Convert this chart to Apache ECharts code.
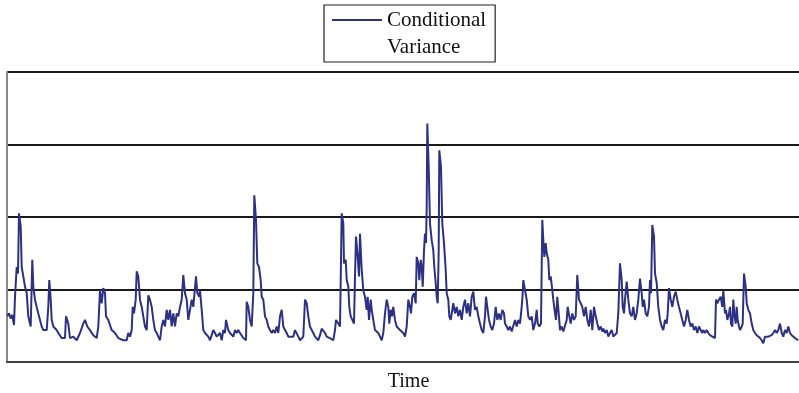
<!DOCTYPE html>
<html>
<head>
<meta charset="utf-8">
<script src="https://cdn.jsdelivr.net/npm/echarts@6/dist/echarts.min.js"></script>
<style>
  html, body { margin: 0; padding: 0; background: #fff; }
  #chart { width: 799px; height: 393px; }
</style>
</head>
<body>
<div id="chart"></div>
<script>
// conditional variance: [period, value]
const seriesName = "Conditional Variance";
const xLabel = "Time";
const yTicks = [0, 1, 2, 3, 4];
const periodRange = [0, 792];

const condVariance = [
  [0.3, 0.63], [2.0, 0.67], [3.7, 0.60], [5.3, 0.65], [7.0, 0.51], [8.0, 0.90], [9.7, 1.31], [11.0, 1.22], [12.0, 2.05], [13.7, 1.87],
  [14.7, 1.31], [16.3, 1.18], [18.0, 1.04], [19.7, 0.95], [21.3, 0.63], [23.7, 0.49], [25.3, 1.41], [26.3, 1.04], [28.0, 0.86], [29.7, 0.76],
  [31.3, 0.67], [33.0, 0.67], [34.7, 0.49], [36.3, 0.44], [39.7, 0.44], [41.3, 0.76], [42.3, 1.13], [43.7, 0.86], [44.7, 0.58], [46.3, 0.49],
  [49.7, 0.44], [51.3, 0.40], [54.7, 0.33], [58.0, 0.33], [59.0, 0.63], [61.3, 0.53], [63.0, 0.33], [66.3, 0.35], [69.7, 0.30], [73.0, 0.40],
  [76.3, 0.53], [78.0, 0.58], [80.3, 0.49], [83.0, 0.44], [86.3, 0.37], [89.7, 0.33], [91.3, 0.49], [93.0, 0.99], [94.7, 0.81], [96.3, 1.02],
  [98.0, 0.95], [99.0, 0.63], [101.3, 0.58], [104.7, 0.44], [108.0, 0.40], [111.3, 0.33], [116.3, 0.30], [119.7, 0.30], [121.3, 0.40], [123.0, 0.35],
  [124.7, 0.44], [125.7, 0.76], [127.0, 0.67], [128.7, 0.86], [129.7, 1.25], [131.3, 1.18], [133.0, 0.86], [134.7, 0.76], [136.3, 0.63], [138.0, 0.49],
  [139.7, 0.44], [141.3, 0.92], [143.0, 0.86], [144.7, 0.76], [146.3, 0.58], [148.0, 0.44], [149.7, 0.40], [151.3, 0.35], [153.0, 0.30], [154.7, 0.49],
  [156.3, 0.58], [158.0, 0.49], [159.7, 0.72], [161.3, 0.58], [163.0, 0.72], [164.7, 0.49], [166.3, 0.67], [168.0, 0.49], [169.7, 0.67], [171.3, 0.63],
  [173.0, 0.76], [174.7, 0.86], [176.3, 1.20], [178.0, 0.95], [179.7, 0.86], [181.3, 0.58], [183.0, 0.72], [184.7, 0.86], [186.3, 0.76], [189.0, 1.18],
  [190.3, 0.95], [192.3, 0.90], [193.0, 0.99], [194.7, 0.72], [196.3, 0.44], [198.0, 0.40], [201.3, 0.35], [203.0, 0.30], [206.3, 0.44], [208.0, 0.40],
  [209.7, 0.35], [213.0, 0.40], [214.7, 0.30], [216.3, 0.44], [218.0, 0.40], [219.0, 0.58], [221.3, 0.44], [223.0, 0.40], [226.3, 0.35], [228.0, 0.44],
  [229.7, 0.40], [231.3, 0.44], [233.0, 0.40], [236.3, 0.33], [239.0, 0.30], [239.7, 0.83], [241.3, 0.76], [243.0, 0.58], [244.7, 0.49], [246.3, 0.95],
  [247.3, 2.30], [249.0, 1.96], [250.3, 1.36], [252.0, 1.31], [253.7, 1.13], [254.7, 0.90], [256.3, 0.86], [258.0, 0.63], [259.7, 0.58], [261.3, 0.49],
  [263.0, 0.44], [264.7, 0.40], [266.3, 0.44], [268.0, 0.40], [269.7, 0.49], [271.3, 0.40], [273.0, 0.63], [274.7, 0.72], [276.3, 0.49], [278.0, 0.44],
  [279.7, 0.40], [281.3, 0.35], [283.0, 0.33], [286.3, 0.35], [288.0, 0.44], [289.7, 0.42], [291.3, 0.35], [293.0, 0.30], [296.3, 0.35], [298.0, 0.86],
  [299.7, 0.81], [301.3, 0.63], [303.0, 0.49], [304.7, 0.44], [306.3, 0.40], [308.0, 0.35], [311.3, 0.30], [313.0, 0.37], [314.7, 0.46], [316.3, 0.44],
  [318.0, 0.40], [319.7, 0.35], [321.3, 0.37], [323.0, 0.33], [326.3, 0.30], [328.0, 0.44], [329.0, 0.58], [331.3, 0.53], [333.0, 0.49], [334.7, 2.05],
  [336.3, 1.91], [337.0, 1.36], [338.7, 1.41], [339.7, 1.13], [341.3, 1.04], [342.3, 0.76], [343.7, 0.63], [345.3, 0.58], [347.0, 0.53], [348.0, 1.18],
  [349.0, 1.73], [350.7, 1.45], [352.0, 1.18], [353.0, 1.77], [354.7, 1.27], [356.3, 0.99], [358.0, 0.90], [359.7, 0.72], [360.7, 0.90], [362.0, 0.58],
  [363.7, 0.86], [364.7, 0.72], [366.3, 0.58], [368.0, 0.44], [369.7, 0.44], [371.3, 0.40], [373.0, 0.35], [374.7, 0.30], [376.3, 0.40], [378.0, 0.67],
  [379.7, 0.86], [381.3, 0.76], [382.3, 0.53], [383.7, 0.72], [385.0, 0.63], [386.3, 0.76], [388.0, 0.58], [389.7, 0.49], [391.3, 0.49], [393.0, 0.44],
  [396.3, 0.40], [398.0, 0.35], [399.7, 0.49], [401.3, 0.86], [403.0, 0.76], [404.0, 0.67], [405.3, 0.90], [407.0, 0.95], [408.7, 0.81], [409.7, 1.45],
  [411.3, 1.36], [412.3, 1.13], [413.7, 1.41], [414.7, 1.31], [415.7, 1.04], [417.0, 1.54], [418.0, 1.77], [419.0, 1.64], [419.7, 2.14], [420.3, 3.29],
  [421.7, 2.69], [423.0, 1.91], [424.7, 1.68], [426.3, 1.54], [427.3, 1.31], [428.7, 1.09], [429.7, 0.90], [430.7, 0.81], [431.7, 1.54], [432.3, 2.92],
  [434.0, 2.69], [435.3, 1.91], [437.0, 1.64], [438.7, 1.27], [439.7, 0.95], [441.3, 0.86], [442.3, 0.63], [443.7, 0.58], [445.3, 0.72], [446.3, 0.81],
  [448.0, 0.67], [449.7, 0.76], [451.3, 0.63], [453.0, 0.72], [454.7, 0.58], [456.3, 0.76], [458.0, 0.86], [459.7, 0.67], [461.3, 0.81], [463.0, 0.63],
  [464.7, 0.90], [466.3, 0.97], [468.0, 0.72], [469.7, 0.76], [471.3, 0.63], [473.0, 0.53], [474.7, 0.44], [476.3, 0.40], [478.0, 0.63], [479.0, 0.90],
  [480.3, 0.76], [482.0, 0.58], [483.7, 0.49], [485.3, 0.44], [487.0, 0.53], [488.7, 0.76], [490.3, 0.58], [492.0, 0.67], [493.7, 0.58], [495.3, 0.72],
  [497.0, 0.67], [498.0, 0.53], [499.7, 0.49], [501.3, 0.44], [503.0, 0.49], [504.7, 0.42], [506.3, 0.44], [508.0, 0.58], [509.7, 0.49], [511.3, 0.58],
  [513.0, 0.53], [514.7, 0.76], [515.7, 0.95], [516.3, 1.13], [518.0, 0.99], [519.7, 0.86], [521.3, 0.63], [523.0, 0.58], [524.7, 0.63], [526.3, 0.44],
  [528.0, 0.53], [529.7, 0.72], [530.7, 0.53], [532.3, 0.49], [534.0, 0.53], [535.3, 1.96], [536.3, 1.68], [537.3, 1.45], [538.7, 1.64], [539.7, 1.50],
  [541.3, 1.41], [542.3, 1.13], [543.7, 1.18], [545.3, 0.99], [546.3, 0.86], [548.0, 0.67], [549.0, 0.58], [550.3, 0.90], [551.7, 0.67], [553.0, 0.44],
  [554.7, 0.49], [556.3, 0.42], [558.0, 0.44], [559.7, 0.58], [560.7, 0.76], [562.3, 0.63], [563.7, 0.53], [565.3, 0.67], [567.0, 0.58], [568.7, 0.63],
  [570.3, 1.20], [572.0, 0.86], [573.7, 0.81], [575.3, 0.76], [577.0, 0.63], [578.7, 0.76], [580.3, 0.58], [582.0, 0.49], [583.7, 0.72], [585.3, 0.44],
  [587.0, 0.76], [588.7, 0.63], [590.3, 0.53], [592.0, 0.44], [593.7, 0.49], [595.3, 0.42], [596.3, 0.46], [598.0, 0.40], [599.7, 0.44], [601.3, 0.35],
  [603.0, 0.40], [604.7, 0.44], [606.3, 0.35], [608.0, 0.33], [609.7, 0.40], [611.3, 0.67], [613.0, 1.36], [614.7, 1.13], [615.7, 0.76], [617.0, 0.67],
  [618.0, 0.86], [619.7, 1.11], [621.3, 0.86], [623.0, 0.67], [624.7, 0.63], [626.3, 0.76], [628.0, 0.58], [629.7, 0.67], [631.3, 0.86], [633.0, 1.15],
  [634.7, 0.95], [635.7, 0.76], [637.0, 0.86], [638.7, 0.67], [640.3, 0.63], [642.0, 0.76], [643.0, 1.13], [644.0, 0.95], [645.3, 1.89], [647.0, 1.73],
  [648.0, 1.22], [649.7, 1.09], [651.3, 0.76], [653.0, 0.58], [654.7, 0.49], [656.3, 0.44], [658.0, 0.58], [659.7, 0.53], [660.7, 0.67], [662.0, 1.02],
  [663.7, 0.86], [665.3, 0.76], [667.0, 0.90], [668.7, 0.97], [670.3, 0.86], [672.0, 0.76], [673.7, 0.67], [675.3, 0.58], [677.0, 0.49], [678.7, 0.58],
  [680.3, 0.72], [682.0, 0.58], [683.7, 0.49], [685.3, 0.53], [687.0, 0.44], [688.7, 0.49], [690.3, 0.40], [692.0, 0.49], [693.7, 0.44], [695.3, 0.40],
  [696.3, 0.44], [698.0, 0.40], [699.7, 0.44], [701.3, 0.40], [703.0, 0.37], [704.7, 0.35], [708.0, 0.33], [709.0, 0.86], [710.3, 0.81], [712.0, 0.86],
  [713.7, 0.90], [715.3, 0.76], [716.3, 0.99], [718.0, 0.67], [719.0, 0.72], [720.3, 0.58], [722.0, 0.67], [723.0, 0.76], [724.0, 0.53], [725.3, 0.49],
  [726.3, 0.86], [727.3, 0.67], [728.7, 0.53], [729.7, 0.76], [730.7, 0.58], [732.0, 0.49], [733.0, 0.44], [734.7, 0.49], [735.7, 0.53], [737.0, 1.22],
  [738.7, 1.04], [739.7, 0.81], [741.3, 0.72], [743.0, 0.67], [744.7, 0.53], [746.3, 0.44], [748.0, 0.40], [749.7, 0.37], [753.0, 0.33], [754.7, 0.30],
  [756.3, 0.26], [758.0, 0.35], [759.7, 0.33], [761.3, 0.35], [763.0, 0.33], [764.7, 0.37], [766.3, 0.40], [768.0, 0.44], [769.7, 0.40], [771.3, 0.44],
  [773.0, 0.53], [774.7, 0.40], [776.3, 0.35], [778.0, 0.44], [779.7, 0.40], [781.3, 0.49], [783.0, 0.40], [784.7, 0.37], [786.3, 0.35], [788.0, 0.33],
  [789.7, 0.35], [791.3, 0.30]
];

const lineColor = "#2c3183";
const serif = "'Liberation Serif', 'Times New Roman', serif";

const myChart = echarts.init(document.getElementById("chart"));

const option = {
  animation: false,
  backgroundColor: "#fff",
  grid: { left: 7, right: 0, top: 72, bottom: 31, containLabel: false, outerBoundsMode: "none" },
  legend: {
    data: [seriesName],
    left: 324,
    top: 5,
    padding: [2, 9, 1, 8],
    borderColor: "#222",
    borderWidth: 1.2,
    itemWidth: 50,
    itemHeight: 54,
    // thin line near the top of a tall box so it sits level with the first text line
    icon: "path://M0,12H50V14H0Z M0,0H0.01V0.01H0Z M0,54H0.01V54.01H0Z",
    itemStyle: { borderWidth: 0 },
    selectedMode: false,
    formatter: (name) => name.replace(" ", "\n"),
    textStyle: { fontFamily: serif, fontSize: 21, lineHeight: 27, color: "#111" },
  },
  xAxis: {
    type: "value",
    min: periodRange[0],
    max: periodRange[1],
    name: xLabel,
    nameLocation: "middle",
    nameGap: 10,
    nameTextStyle: { fontFamily: serif, fontSize: 20, color: "#111", padding: [0, 0, 0, 11] },
    axisLine: { show: true, onZero: false, lineStyle: { color: "#404040", width: 2 } },
    axisTick: { show: false },
    axisLabel: { show: false },
    splitLine: { show: false },
  },
  yAxis: {
    type: "value",
    min: yTicks[0],
    max: yTicks[yTicks.length - 1],
    interval: 1,
    axisLine: { show: true, lineStyle: { color: "#888", width: 2 } },
    axisTick: { show: false },
    axisLabel: { show: false },
    splitLine: { show: true, lineStyle: { color: "#1a1a1a", width: 2 } },
  },
  series: [
    {
      name: seriesName,
      type: "line",
      data: condVariance,
      showSymbol: false,
      symbol: "none",
      itemStyle: { color: lineColor },
      lineStyle: { color: lineColor, width: 2 },
    },
  ],
};

myChart.setOption(option);
</script>
</body>
</html>
